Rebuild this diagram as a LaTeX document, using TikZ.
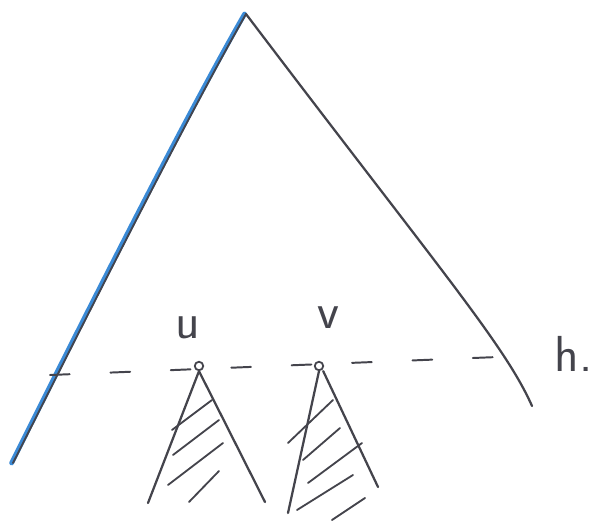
\documentclass[tikz,border=0pt]{standalone}
\definecolor{penblue}{RGB}{58,138,214}
\definecolor{pengrey}{RGB}{68,68,76}

\begin{document}
\begin{tikzpicture}[x=0.025cm,y=-0.025cm,line cap=round,line join=round,
      pen/.style={draw=pengrey,line width=1.6pt},
      hatch/.style={draw=pengrey,line width=1.3pt},
      leaf/.style={draw=pengrey,circle,line width=1.3pt,inner sep=0pt,minimum size=6pt},
      tag/.style={text=pengrey,font=\sffamily\fontsize{36}{40}\selectfont}]
      \useasboundingbox (0,0) rectangle (598,523);
      \coordinate (top) at (246,14);
      \coordinate (lend) at (13,463);
      \coordinate (rend) at (532,406);
      \coordinate (lvl) at (50,375);
      \coordinate (rvl) at (498,357);
      \node[leaf] (u) at (199,366) {};
      \node[leaf] (v) at (319,366) {};
      \node[tag] (ulab) at (188,328) {u};
      \node[tag] (vlab) at (328,318) {v};
      \node[tag,anchor=west] (hlab) at (550,354) {h.};
      \draw[penblue,line width=3.4pt] ([xshift=-1pt]lend) .. controls (68,350) and (178,130) .. ([xshift=-1pt]top);
      \draw[pen,line width=1.3pt] (lend) .. controls (70,350) and (180,130) .. (top);
      \draw[pen] (top) .. controls (440,270) and (505,345) .. (rend);
      \draw[pen,line width=1.4pt,dash pattern=on 14pt off 29pt] (lvl) -- (rvl);
      \draw[pen] (u.south) -- (148,503);
      \draw[pen] (u.south) -- (265,502);
      \draw[hatch] (172,430) -- (212,400) (173,455) -- (219,420)
        (168,485) -- (223,443) (189,502) -- (219,471);
      \draw[pen] (v.south) -- (288,513);
      \draw[pen] ([xshift=3pt]v.south) -- (378,487);
      \draw[hatch] (288,443) -- (333,400) (303,460) -- (340,428)
        (308,483) -- (362,443) (297,510) -- (353,475) (332,520) -- (365,498);
    \end{tikzpicture}
\end{document}
